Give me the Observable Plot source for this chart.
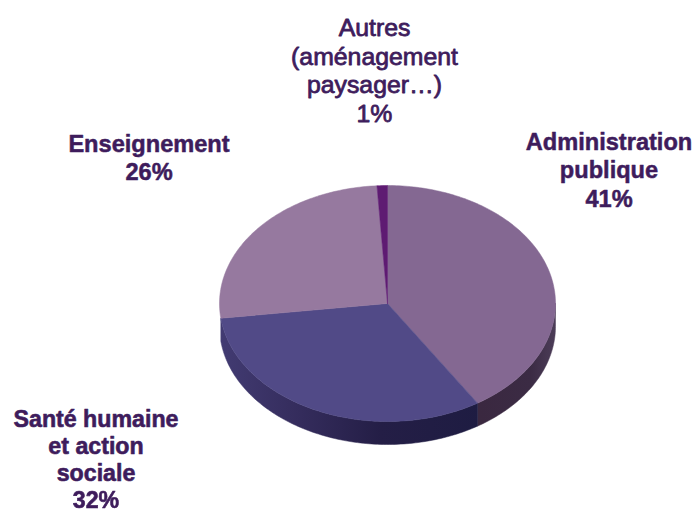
<!DOCTYPE html>
<html lang="fr">
<head>
<meta charset="utf-8">
<script src="https://cdn.jsdelivr.net/npm/d3@7"></script>
<script src="https://cdn.jsdelivr.net/npm/@observablehq/plot@0.6"></script>
<style>
  html, body { margin: 0; padding: 0; background: #fff; }
  svg { display: block; filter: blur(0.35px); }
</style>
</head>
<body>
<div id="chart"></div>
<script>
const categories = ["Administration publique", "Santé humaine et action sociale", "Enseignement", "Autres (aménagement paysager…)"];
const shares = [41, 32, 26, 1];
const topColors = ["#846892", "#514a87", "#96799f", "#5e1b72"];

// Multi-line labels as printed on the chart
const labelLines = [
  ["Administration", "publique", "41%"],
  ["Santé humaine", "et action", "sociale", "32%"],
  ["Enseignement", "26%"],
  ["Autres", "(aménagement", "paysager…)", "1%"]
];
const labelWeights = ["bold", "bold", "bold", "normal"];
const labelSizes = [23.6, 23.2, 23.6, 24.8];
const labelStrokes = [0.5, 0.6, 0.5, 0.8];

// Layout: pie drawn in unit-radius coordinates
const W = 694, H = 513;
const cx = 387, cy = 303, rx = 168, ry = 118, depthPx = 23;
const depth = depthPx / ry;
const labelAnchor = [[608.5, 142], [95.5, 419.5], [148.5, 144], [374, 28]]; // pixels: first-line centre
const lineSteps = [28.4, 27, 28.4, 28.4];

const xDom = [-cx / rx, (W - cx) / rx];
const yDom = [-cy / ry, (H - cy) / ry];
const toX = (px) => (px - cx) / rx;
const toY = (py) => (py - cy) / ry;

const total = d3.sum(shares);
let acc = 0;
const slices = shares.map((v, i) => {
  const start = acc / total * 2 * Math.PI;
  acc += v;
  return { i, start, end: acc / total * 2 * Math.PI };
});

const arcPts = (a0, a1) => {
  const n = Math.max(2, Math.ceil((a1 - a0) / (Math.PI / 180)));
  return d3.range(n + 1).map((k) => {
    const a = a0 + (a1 - a0) * k / n;
    return { x: Math.sin(a), y: -Math.cos(a) };
  });
};

const topPoly = (s) => [{ x: 0, y: 0 }, ...arcPts(s.start, s.end), { x: 0, y: 0 }];

// The visible outer wall: only the first two slices show one
const wallPoly = (s) => {
  const a0 = Math.max(s.start, Math.PI / 2), a1 = Math.min(s.end, 3 * Math.PI / 2);
  const top = arcPts(a0, a1);
  const bottom = top.slice().reverse().map((p) => ({ x: p.x, y: p.y + depth }));
  return [...top, ...bottom, top[0]];
};

const wallFills = ["url(#wallA)", "url(#wallB)"];

const defsMark = () => {
  const defs = d3.create("svg:defs");
  const grad = (id, stops) => {
    const g = defs.append("linearGradient").attr("id", id)
      .attr("gradientUnits", "userSpaceOnUse")
      .attr("x1", 0).attr("x2", W).attr("y1", 0).attr("y2", 0);
    stops.forEach(([o, c]) => g.append("stop").attr("offset", o / W).attr("stop-color", c));
  };
  grad("wallA", [[480, "#3a2840"], [530, "#3b2b44"], [555, "#4c3d58"]]);
  grad("wallB", [[220, "#423b72"], [300, "#342c5c"], [380, "#241e46"], [480, "#1e1c42"]]);
  return defs.node();
};

const marks = [defsMark];
wallFills.forEach((fill, i) => {
  marks.push(Plot.line(wallPoly(slices[i]), { x: "x", y: "y", fill, stroke: fill, strokeWidth: 0.5 }));
});
slices.forEach((s, i) => {
  marks.push(Plot.line(topPoly(s), { x: "x", y: "y", fill: topColors[i], stroke: topColors[i], strokeWidth: 0.5 }));
});
labelLines.forEach((lines, i) => {
  const rows = lines.map((t, k) => ({ t, x: toX(labelAnchor[i][0]), y: toY(labelAnchor[i][1] + k * lineSteps[i]) }));
  marks.push(Plot.text(rows, {
    x: "x", y: "y", text: "t",
    fontFamily: "Liberation Sans, Arial, sans-serif",
    fontSize: labelSizes[i], fontWeight: labelWeights[i],
    fill: "#3e1c5c",
    stroke: "#3e1c5c",
    strokeWidth: labelStrokes[i]
  }));
});

const chart = Plot.plot({
  width: W, height: H,
  margin: 0,
  x: { domain: xDom, range: [0, W], axis: null },
  y: { domain: yDom, range: [0, H], axis: null },
  style: { background: "#fff", overflow: "visible" },
  marks
});
document.getElementById("chart").append(chart);
</script>
</body>
</html>
